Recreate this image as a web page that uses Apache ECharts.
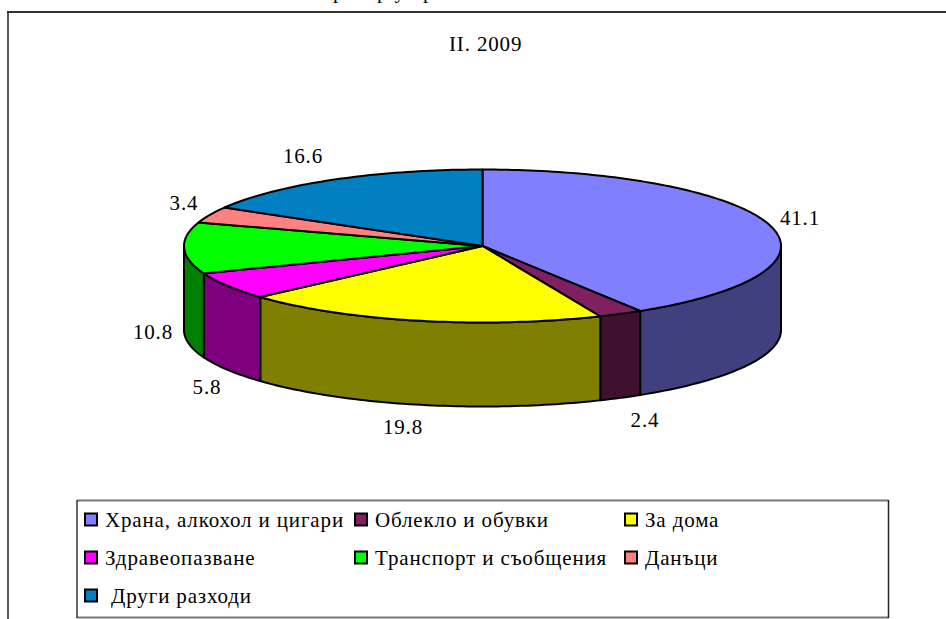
<!DOCTYPE html>
<html><head><meta charset="utf-8">
<style>html,body{margin:0;padding:0;background:#fff}#c{width:946px;height:619px}
#c svg text{letter-spacing:.85px}</style>
<script src="https://cdn.jsdelivr.net/npm/echarts@6/dist/echarts.min.js"></script>
</head><body><div id="c"></div>
<script>
const categories = ['Храна, алкохол и цигари','Облекло и обувки','За дома','Здравеопазване','Транспорт и съобщения','Данъци',' Други разходи'];
const values = [41.1,2.4,19.8,5.8,10.8,3.4,16.6];
const topColors = ['#8080ff','#802060','#ffff00','#ff00ff','#00ff00','#ff8080','#0080c0'];
const sideColors = ['#40407f','#40102f','#7f7f00','#7f007f','#007f00','#7f4040','#004060'];
const chartTitle = 'II. 2009';
const croppedFragments = ['р','р у','р'];

const CX=482.5, CY=246, RX=298.5, RY=76.5, DEPTH=84;
const total = values.reduce((a,b)=>a+b,0);
const FONT='"Liberation Serif"';
function pt(a,dy){return [CX+RX*Math.sin(a), CY-RY*Math.cos(a)+(dy||0)];}
function arc(a0,a1,dy){const n=Math.max(2,Math.ceil(Math.abs(a1-a0)/0.02));const o=[];for(let i=0;i<=n;i++)o.push(pt(a0+(a1-a0)*i/n,dy));return o;}
const labelAnchor=[[800,218],[645,420],[403,427],[207,387],[153,332],[184,203],[303,156]];

const series = categories.map((name,i)=>({
  type:'custom', name, coordinateSystem:'none', silent:true,
  itemStyle:{color:topColors[i],borderColor:'#000',borderWidth:2},
  data:[[values[i]]],
  renderItem(params,api){
    const before=values.slice(0,i).reduce((a,b)=>a+b,0);
    const a0=before/total*2*Math.PI, a1=(before+api.value(0))/total*2*Math.PI;
    const children=[];
    const vs={stroke:'#000',lineWidth:2,lineJoin:'round'};
    const s0=Math.max(a0,Math.PI/2), s1=Math.min(a1,Math.PI*1.5);
    if(s1>s0){
      const pts=arc(s0,s1,0).concat(arc(s1,s0,DEPTH));
      children.push({type:'polygon',shape:{points:pts},style:Object.assign({fill:sideColors[i]},vs)});
    }
    const topPts=[[CX,CY]].concat(arc(a0,a1,0));
    children.push({type:'polygon',shape:{points:topPts},style:Object.assign({fill:topColors[i]},vs)});
    const l=labelAnchor[i];
    children.push({type:'text',x:l[0],y:l[1],style:{text:values[i].toFixed(1),font:'21px '+FONT,fill:'#000',textAlign:'center',textVerticalAlign:'middle'}});
    return {type:'group',children};
  }
}));
const legendBase={orient:'vertical',itemWidth:12,itemHeight:12,itemGap:17,icon:'rect',selectedMode:false,padding:0,
  itemStyle:{borderColor:'#000',borderWidth:2},
  textStyle:{fontFamily:FONT,fontSize:21,color:'#000',padding:[0,0,0,3]}};
const legend=[
  Object.assign({},legendBase,{left:84,top:509,data:[categories[0],categories[3],categories[6]]}),
  Object.assign({},legendBase,{left:354,top:509,data:[categories[1],categories[4]]}),
  Object.assign({},legendBase,{left:624,top:509,data:[categories[2],categories[5]]}),
];
function ln(x1,y1,x2,y2,stroke,w){return {type:'line',shape:{x1,y1,x2,y2},style:{stroke,lineWidth:w},z:-1};}
const chart=echarts.init(document.getElementById('c'),null,{renderer:'svg'});
chart.setOption({
  animation:false,backgroundColor:'#fff',
  title:{text:chartTitle,left:444,top:28,textStyle:{fontFamily:FONT,fontSize:21,fontWeight:'normal',color:'#000'}},
  legend,series,
  graphic:[
    {type:'text',x:333,y:-9,style:{text:croppedFragments[0],font:'21px '+FONT,fill:'#000',textVerticalAlign:'middle'}},
    {type:'text',x:377,y:-9,style:{text:croppedFragments[1],font:'21px '+FONT,fill:'#000',textVerticalAlign:'middle'}},
    {type:'text',x:423,y:-9,style:{text:croppedFragments[2],font:'21px '+FONT,fill:'#000',textVerticalAlign:'middle'}},
    ln(7,12,946,12,'#333',2),
    ln(8,12,8,619,'#222',1.5),
    ln(77,500.5,888.5,500.5,'#777',2),
    ln(77,617.5,888.5,617.5,'#777',2),
    ln(77,500,77,618,'#333',1.5),
    ln(888.5,500,888.5,618,'#222',1.5)
  ]
});
</script></body></html>
